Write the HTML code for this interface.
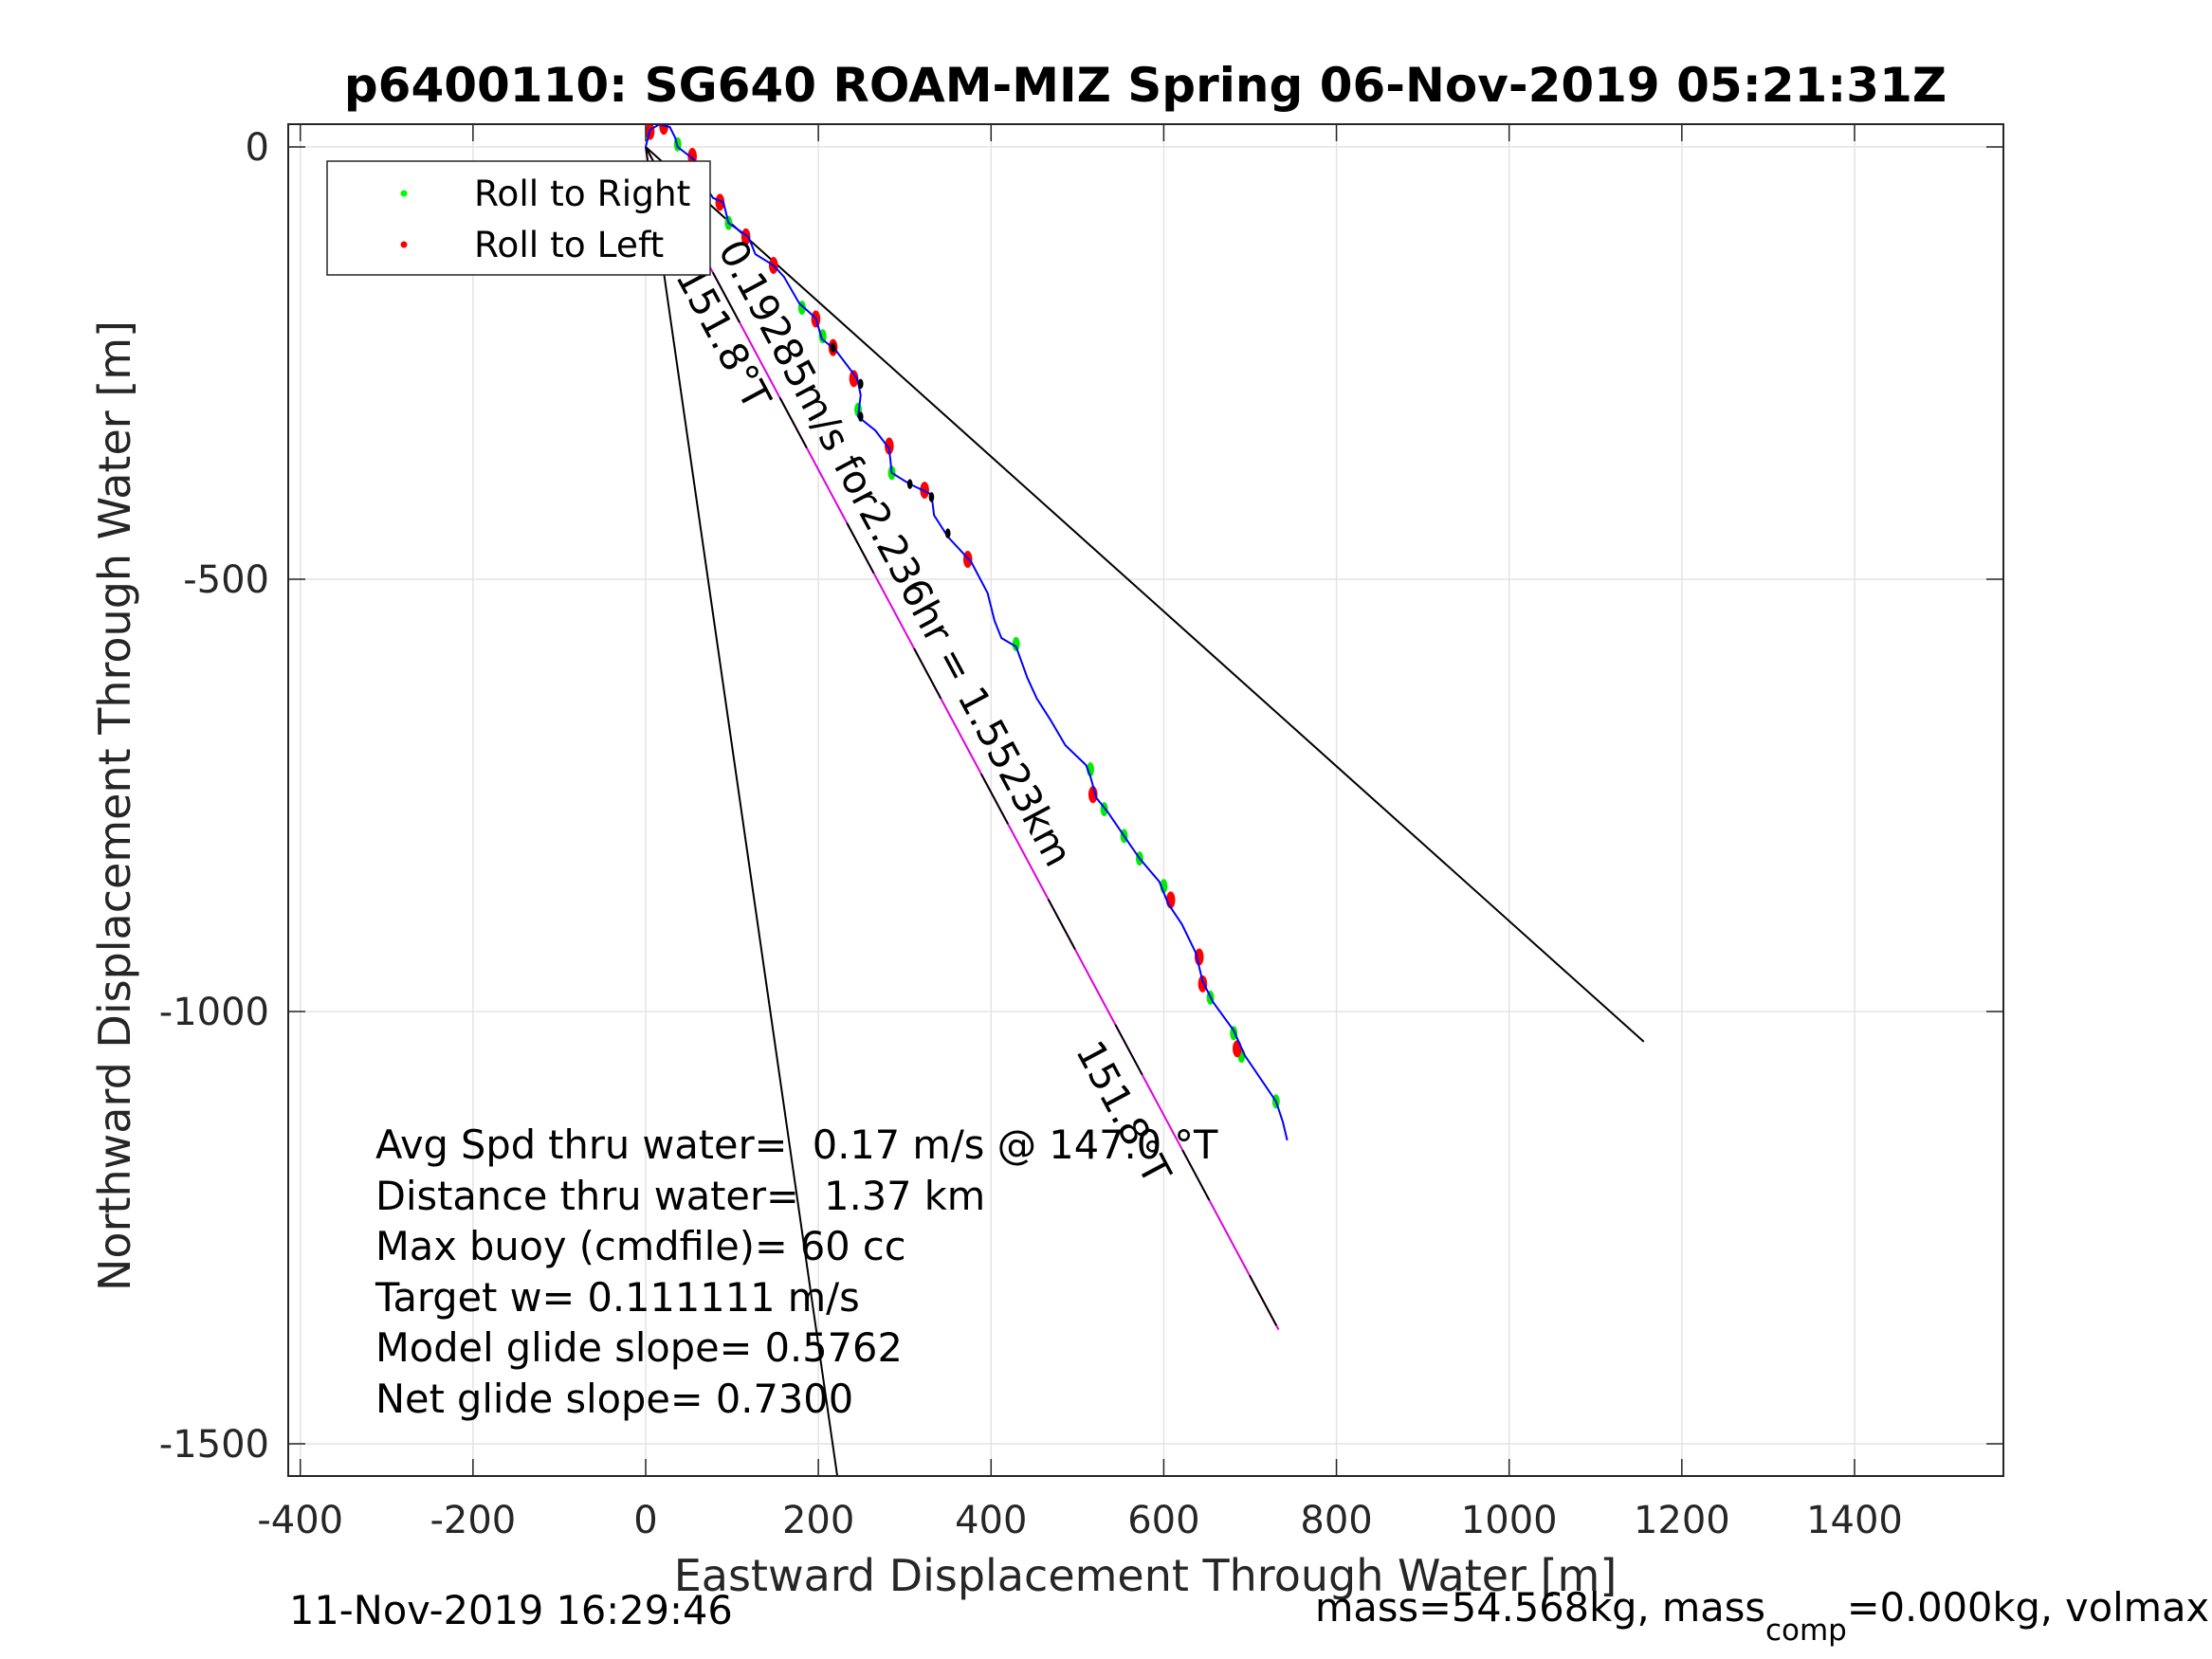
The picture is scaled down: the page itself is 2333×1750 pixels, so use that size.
<!DOCTYPE html>
<html><head><meta charset="utf-8"><style>
html,body{margin:0;padding:0;background:#fff}
svg{display:block;font-family:"DejaVu Sans","Liberation Sans",sans-serif}
</style></head><body>
<svg id="chart" width="2333" height="1750" viewBox="0 0 2333 1750">
<text x="1208" y="107" text-anchor="middle" font-size="50" font-weight="bold">p6400110: SG640 ROAM-MIZ Spring 06-Nov-2019 05:21:31Z</text>
<g id="grid"></g>
<g id="plot"></g>
<g id="axes"></g>
<text x="1208" y="1678" text-anchor="middle" font-size="46" fill="#262626">Eastward Displacement Through Water [m]</text>
<text transform="translate(137,850) rotate(-90)" text-anchor="middle" font-size="46" fill="#262626">Northward Displacement Through Water [m]</text>
<g>
<rect x="345" y="170" width="404" height="120" fill="#fff" stroke="#262626" stroke-width="1.5"/>
<circle cx="426" cy="204" r="3.5" fill="#00ff00"/>
<text x="500" y="217" font-size="37.5">Roll to Right</text>
<circle cx="426" cy="258" r="3.5" fill="#ff0000"/>
<text x="500" y="271" font-size="37.5">Roll to Left</text>
</g>
<g font-size="41.5">
<text x="396" y="1222">Avg Spd thru water=&#160; 0.17 m/s @ 147.0 °T</text>
<text x="396" y="1276">Distance thru water=&#160; 1.37 km</text>
<text x="396" y="1329">Max buoy (cmdfile)= 60 cc</text>
<text x="396" y="1383">Target w= 0.111111 m/s</text>
<text x="396" y="1436">Model glide slope= 0.5762</text>
<text x="396" y="1490">Net glide slope= 0.7300</text>
</g>
<text x="305" y="1713" font-size="41.5">11-Nov-2019 16:29:46</text>
<text x="1387" y="1710" font-size="41.5">mass=54.568kg, mass<tspan font-size="31" dy="20">comp</tspan><tspan dy="-20">=0.000kg, volmax</tspan></text>
</svg>
<script>
const xTicks=[-400,-200,0,200,400,600,800,1000,1200,1400];
const yTicks=[0,-500,-1000,-1500];
const trackX=[0,5,16,28,34,37,54,65,67,78,90,96,119,127,148,160,178,197,204,220,245,249,246,266,282,285,306,331,334,350,377,396,404,412,429,442,453,469,486,510,515,522,535,554,572,595,605,621,637,645,657,681,694,730,738,743];
const trackY=[0,20,26,23,11,0,-13,-23,-42,-59,-64,-88,-104,-124,-137,-150,-181,-198,-222,-235,-268,-287,-312,-328,-349,-377,-390,-402,-426,-451,-480,-516,-548,-568,-578,-614,-638,-663,-692,-715,-728,-753,-769,-797,-823,-850,-875,-899,-932,-965,-989,-1022,-1051,-1104,-1128,-1149];
const greenX=[37,67,96,181,205,246,285,429,515,531,554,572,600,654,681,690,730];
const greenY=[3,-42,-88,-186,-219,-304,-377,-575,-720,-766,-797,-823,-855,-984,-1025,-1051,-1104];
const redX=[21,5,54,86,116,148,197,217,241,282,323,373,518,608,641,645,685];
const redY=[24,18,-11,-64,-104,-137,-199,-232,-268,-346,-397,-477,-749,-871,-937,-968,-1043];
const blackX=[217,249,249,306,331,350];
const blackY=[-232,-274,-312,-390,-405,-447];
const lineEndX=[1156,222,733];
const lineEndY=[-1035,-1538,-1368];

const L=304,R=2113,T=131,B=1557;
const sx=v=>681+v*0.9107;
const sy=v=>155-v*0.912;
const NS='http://www.w3.org/2000/svg';
function mk(tag,parent,attrs){const e=document.createElementNS(NS,tag);for(const k in attrs)e.setAttribute(k,attrs[k]);parent.appendChild(e);return e;}
const grid=document.getElementById('grid'),plot=document.getElementById('plot'),axes=document.getElementById('axes');
mk('rect',grid,{x:L,y:T,width:R-L,height:B-T,fill:'#fff'});
xTicks.forEach(t=>{const x=sx(t);
 const g=mk('line',grid,{x1:x,x2:x,y1:T,y2:B,stroke:'#e3e3e3','stroke-width':1.5});
 
 
 mk('line',axes,{x1:x,x2:x,y1:B,y2:B-18,stroke:'#262626','stroke-width':1.5});
 mk('line',axes,{x1:x,x2:x,y1:T,y2:T+18,stroke:'#262626','stroke-width':1.5});
 const tx=mk('text',axes,{x:x,y:1617,'text-anchor':'middle','font-size':40,fill:'#262626'});tx.textContent=t;
 
 
});
yTicks.forEach(t=>{const y=sy(t);
 const g=mk('line',grid,{x1:L,x2:R,y1:y,y2:y,stroke:'#e3e3e3','stroke-width':1.5});
 
 
 mk('line',axes,{x1:L,x2:L+18,y1:y,y2:y,stroke:'#262626','stroke-width':1.5});
 mk('line',axes,{x1:R,x2:R-18,y1:y,y2:y,stroke:'#262626','stroke-width':1.5});
 const tx=mk('text',axes,{x:284,y:y+14,'text-anchor':'end','font-size':40,fill:'#262626'});tx.textContent=t;
 
 
});
mk('rect',axes,{x:L,y:T,width:R-L,height:B-T,fill:'none',stroke:'#262626','stroke-width':2});
const cp=mk('clipPath',plot,{id:'clip'});mk('rect',cp,{x:L,y:T,width:R-L,height:B-T});
const lg=mk('g',plot,{'clip-path':'url(#clip)'});
const names=['heading-line-right','heading-line-left','mean-course-line'];
lineEndX.forEach((ex,i)=>{
 const l=mk('line',lg,{x1:sx(0),y1:sy(0),x2:sx(ex),y2:sy(lineEndY[i]),stroke:i==2?'#e000e0':'#000','stroke-width':2});
 
 
 if(i==2){const d=mk('line',lg,{x1:sx(0),y1:sy(0),x2:sx(ex),y2:sy(lineEndY[i]),stroke:'#000','stroke-width':2,'stroke-dasharray':'60 90'});
  
  }
});
function marks(xs,ys,col,r,name){xs.forEach((v,i)=>{const c=mk('ellipse',lg,{cx:sx(v),cy:sy(ys[i]),rx:r*0.8,ry:r*1.5,fill:col});
 
 });}
marks(greenX,greenY,'#00ee00',5,'roll-right-marker');
marks(redX,redY,'#ff0000',6,'roll-left-marker');
const tr=mk('polyline',lg,{points:trackX.map((v,i)=>sx(v)+','+sy(trackY[i])).join(' '),fill:'none',stroke:'#0000ff','stroke-width':2});


marks(blackX,blackY,'#000',3.5,'black-marker');
const ang=Math.atan2(sy(lineEndY[2])-sy(0),sx(lineEndX[2])-sx(0))*180/Math.PI;
function rl(x,y,s,name){const t=mk('text',plot,{transform:`translate(${x},${y}) rotate(${ang})`,'font-size':41});t.textContent=s;
 
 }
rl(757,263,'0.19285m/s for2.236hr = 1.5523km','speed-label');
rl(712,291,'151.8°T','heading-label-1');
rl(1134,1108,'151.8°T','heading-label-2');
</script>
</body></html>
